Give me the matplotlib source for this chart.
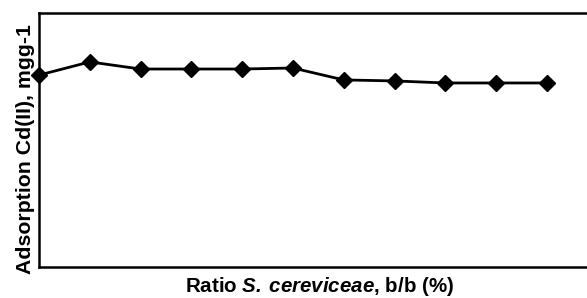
import matplotlib
matplotlib.use("Agg")
import matplotlib.pyplot as plt

# ratio steps (tick labels are not shown on the original chart)
ratio = [0, 1, 2, 3, 4, 5, 6, 7, 8, 9, 10]
# adsorption, in relative units (axis has no numbers)
adsorption = [75.5, 80.7, 77.9, 77.9, 77.9, 78.3, 73.6, 73.2, 72.4, 72.4, 72.4]

plt.rcParams['font.family'] = ['Liberation Sans', 'DejaVu Sans']
plt.rcParams['mathtext.fontset'] = 'custom'
plt.rcParams['mathtext.bfit'] = 'Liberation Sans:italic:bold'
plt.rcParams['mathtext.rm'] = 'Liberation Sans:bold'

fig = plt.figure(figsize=(5.87, 2.98), dpi=100)
ax = fig.add_axes([0.0664, 0.1057, 0.9336, 0.8507])

ax.plot(ratio, adsorption, color='black', linewidth=2,
        marker='D', markersize=8.3, markeredgewidth=1, clip_on=False)

ax.set_xlim(0, 10.79)
ax.set_ylim(0, 100)
ax.set_xticks([])
ax.set_yticks([])
ax.spines['right'].set_visible(False)
for side in ['left', 'top', 'bottom']:
    ax.spines[side].set_linewidth(1.8)

ax.set_xlabel(r'Ratio $\mathbfit{S.\,cereviceae}$, b/b (%)',
              fontsize=14.8, fontweight='bold', va='center')
ax.xaxis.set_label_coords(0.512, -0.077)
ax.set_ylabel('Adsorption Cd(II), mgg-1', fontsize=15.3, fontweight='bold', va='center')
ax.yaxis.set_label_coords(-0.0255, 0.465)

fig.savefig('out.png', dpi=100)
